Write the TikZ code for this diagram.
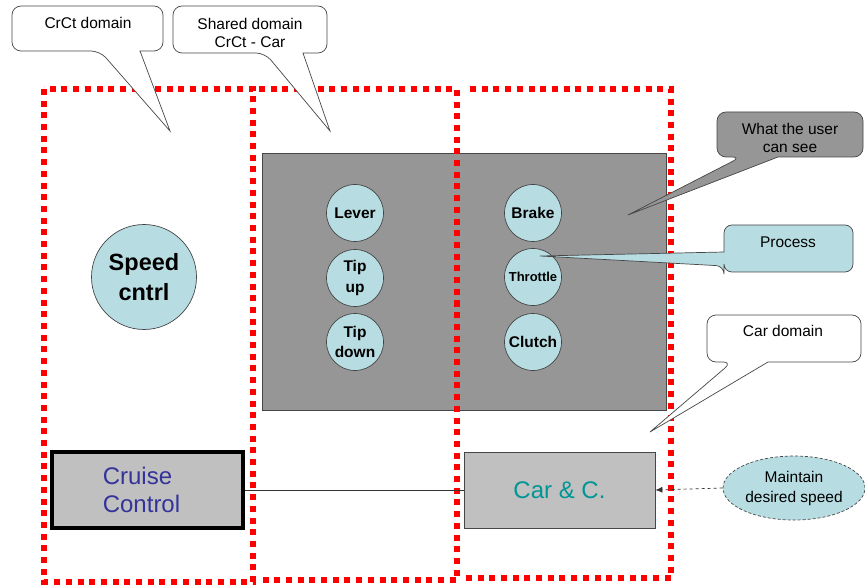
\documentclass[tikz,border=0pt]{standalone}
\usepackage{fontspec}
\setmainfont{Liberation Sans}
\usetikzlibrary{arrows.meta,shapes.geometric}
\definecolor{zonered}{RGB}{255,0,0}
\definecolor{panelgray}{RGB}{150,150,150}
\definecolor{lightcyan}{RGB}{183,221,226}
\definecolor{boxgray}{RGB}{192,192,192}
\definecolor{ccblue}{RGB}{51,51,153}
\definecolor{carteal}{RGB}{0,150,150}
\definecolor{edgegray}{RGB}{70,70,70}

\begin{document}
\begin{tikzpicture}[x=1pt,y=-1pt,
  zone/.style={draw=zonered, line width=6pt, dash pattern=on 6pt off 5.7pt},
  panel/.style={draw=edgegray, line width=0.8pt, fill=panelgray},
  part/.style={circle, draw=edgegray, line width=0.7pt, fill=lightcyan,
    minimum size=57pt, inner sep=0pt, align=center,
    font=\fontsize{15.5}{20.5}\selectfont\bfseries},
  bigpart/.style={part, minimum size=105pt, font=\fontsize{23.5}{30}\selectfont\bfseries},
  smallpart/.style={part, font=\fontsize{13}{16}\selectfont\bfseries},
  ccbox/.style={draw=black, line width=4pt, fill=boxgray, minimum width=191pt,
    minimum height=76pt, inner sep=0pt, align=left, text=ccblue,
    font=\fontsize{24}{28}\selectfont},
  carbox/.style={draw=edgegray, line width=0.8pt, fill=boxgray, minimum width=191pt,
    minimum height=76pt, inner sep=0pt, text=carteal, font=\fontsize{24}{28}\selectfont},
  goal/.style={ellipse, draw=edgegray, dash pattern=on 3pt off 2pt, line width=0.7pt, fill=lightcyan,
    minimum width=142pt, minimum height=64pt, inner sep=0pt, align=center,
    font=\fontsize{15.5}{20}\selectfont},
  wire/.style={draw=black!80, line width=0.7pt},
  callw/.style={draw=edgegray, line width=0.7pt, fill=white},
  calldark/.style={draw=edgegray, line width=0.7pt, fill=panelgray},
  calllight/.style={draw=edgegray, line width=0.7pt, fill=lightcyan},
  ctext/.style={align=center, inner sep=0pt, font=\fontsize{15.5}{18.5}\selectfont}
]
\useasboundingbox (0,0) rectangle (865,588);

% grey panel holding the user-visible controls
\draw[panel] (262,153) rectangle (666,410);

% the three domain zones (shared borders drawn once)
\draw[zone] (44,89) rectangle (253,582);
\draw[zone] (259,89) -- (457,89) -- (457,580) -- (259,580);
\draw[zone] (470,89) -- (671,89) -- (671,578) -- (463,578);

% controls
\node[bigpart] (speed) at (144,277) {Speed\\cntrl};
\node[part] (lever) at (355,213) {Lever};
\node[part] (tipup) at (355,278) {Tip\\up};
\node[part] (tipdown) at (355,342) {Tip\\down};
\node[part] (brake) at (533,213) {Brake};
\node[smallpart] (throttle) at (533,277) {Throttle};
\node[part] (clutch) at (533,342) {Clutch};

% system blocks
\node[ccbox] (cc) at (147.5,490) {Cruise\\Control\hspace*{12pt}};
\node[carbox] (car) at (559.5,490) {Car \& C.};
\draw[wire] (cc.east) -- (car.west);

\node[goal] (goal) at (794,488) {Maintain\\desired speed};
\draw[wire, dashed, -{Latex[length=7pt,width=6pt]}] (goal.west) -- (car.east);

% callouts
\draw[callw] (100,51) -- (170,131) -- (140,51) [rounded corners=9] -- (163,51) -- (163,6) -- (12,6) -- (12,51) -- cycle;
\node[ctext] (crct) at (88,23) {CrCt domain};

\draw[callw] (265,53) -- (330,131) -- (303,53) [rounded corners=9] -- (327,53) -- (327,6) -- (173,6) -- (173,53) -- cycle;
\node[ctext] (shared) at (250,33) {Shared domain\\CrCt - Car};

\draw[calldark] (741,157) -- (628,215) -- (778,157) [rounded corners=9] -- (863,157) -- (863,112) -- (717,112) -- (717,157) -- cycle;
\node[ctext] (user) at (790,138) {What the user\\can see};

\draw[calllight] (724,266) -- (540,256) -- (724,252) [rounded corners=8] -- (724,225) -- (853,225) -- (853,272) -- (724,272) -- cycle;
\node[ctext] (process) at (788,242) {Process};

\draw[callw] (732,362) -- (650,432) -- (768,362) [rounded corners=9] -- (861,362) -- (861,315) -- (707,315) -- (707,362) -- cycle;
\node[ctext] (cardom) at (783,331) {Car domain};
\end{tikzpicture}
\end{document}
